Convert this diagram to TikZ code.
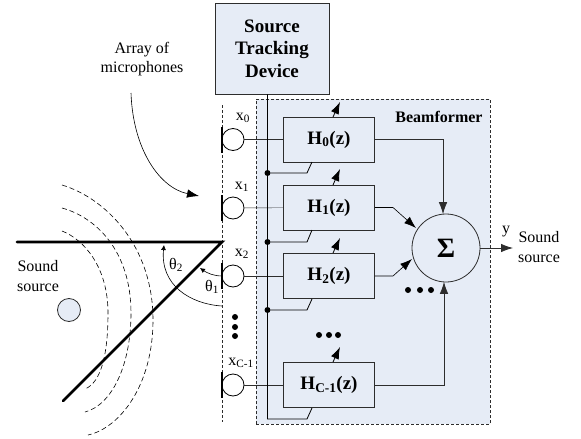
\documentclass[tikz,border=0pt]{standalone}
\usepackage{fontspec}
\setmainfont{Liberation Serif}
\usetikzlibrary{arrows.meta}
\definecolor{panel}{RGB}{230,236,246}
\definecolor{ink}{RGB}{45,45,45}
\tikzset{
  >={Latex[length=12pt,width=8.5pt]},
  filterbox/.style={draw=ink,fill=panel,line width=0.8pt,minimum width=91pt,minimum height=45pt,inner sep=0pt,font=\bfseries\fontsize{19}{19}\selectfont},
  mic/.style={draw,circle,fill=white,line width=0.8pt,minimum size=22pt,inner sep=0pt},
  bar/.style={line width=1.8pt},
  blob/.style={circle,fill=black,minimum size=6pt,inner sep=0pt},
  joint/.style={circle,fill=black,minimum size=6pt,inner sep=0pt},
  wave/.style={dash pattern=on 5pt off 3pt,line width=0.6pt},
  beam/.style={line width=2.8pt,line cap=round},
  lab/.style={inner sep=0pt,font=\fontsize{16}{16}\selectfont},
}
\begin{document}
\begin{tikzpicture}[x=1pt,y=-1pt]
\useasboundingbox (0,0) rectangle (581,439);
\fill [fill=white] (0,0) rectangle (581,439);
% beamformer panel and tracking device
\node [draw=ink,densely dashed,fill=panel,line width=0.6pt,minimum width=234pt,minimum height=325pt,inner sep=0pt] (panel) at (373,261.5) {};
\node [draw=ink,fill=panel,line width=0.8pt,minimum width=114pt,minimum height=91pt,align=center,inner sep=0pt,font=\bfseries\fontsize{19}{22.5}\selectfont] (tracker) at (272,48.5) {Source\\Tracking\\Device};
\node [inner sep=0pt,font=\bfseries\fontsize{16}{16}\selectfont] (beamlabel) at (439,117) {Beamformer};
\draw [densely dashed,draw=ink,line width=0.6pt] (222,105) -- (222,422);
% filters
\node [filterbox] (H0) at (329,139.5) {H\textsubscript{0}(z)};
\node [filterbox] (H1) at (329,207.5) {H\textsubscript{1}(z)};
\node [filterbox] (H2) at (329,276) {H\textsubscript{2}(z)};
\node [filterbox] (HC) at (329,385) {H\textsubscript{C-1}(z)};
\node [draw=ink,circle,fill=panel,line width=0.8pt,minimum size=68pt,inner sep=0pt,font=\bfseries\fontsize{28}{28}\selectfont] (sum) at (446,248) {Σ};
% microphones
\foreach \name/\ypos/\xtext/\ytext/\txt in {A/139.5/243/118/x\textsubscript{0},B/208/242/187/x\textsubscript{1},C/276/242/254/x\textsubscript{2},D/385/241/363/x\textsubscript{C-1}}
{\node [mic] (mic\name) at (233,\ypos) {};
\draw [bar] ([yshift=13pt]mic\name.west) -- ([yshift=-13pt]mic\name.west);
\node [lab] (xlabel\name) at (\xtext,\ytext) {\txt};
}
\draw [draw=ink] (micA) -- (H0);
\draw [draw=ink] (micB) -- (H1);
\draw [draw=ink] (micC) -- (H2);
\draw [draw=ink] (micD) -- (HC);
% control bus
\coordinate (busbottom) at (267.5,419);
\node [joint] (jointA) at (267.5,173) {};
\node [joint] (jointB) at (267.5,242) {};
\node [joint] (jointC) at (267.5,310) {};
\draw [line width=0.8pt] (tracker.south -| busbottom) -- (busbottom) -- (307,419) -- (312,408);
\draw [line width=0.8pt] (jointA) -- (307,173) -- (312,162);
\draw [line width=0.8pt] (jointB) -- (307,242) -- (312,230);
\draw [line width=0.8pt] (jointC) -- (307,310) -- (312,299);
% weight arrows
\draw [->,line width=0.8pt] (333,117) -- (340,102);
\draw [->,line width=0.8pt] (333,185) -- (340,169);
\draw [->,line width=0.8pt] (333,253) -- (340,238);
\draw [->,line width=0.8pt] (333,362) -- (340,347);
% outputs
\draw [->,draw=ink,line width=0.8pt] (H0.east) -- (443,139.5) -- (443,214.2);
\draw [->,line width=0.6pt] (H1.east) -- (393,207.5) -- (416,228);
\draw [->,line width=0.6pt] (H2.east) -- (393,276) -- (412,259);
\draw [->,draw=ink,line width=0.8pt] (HC.east) -- (444,385) -- (444,281.8);
\coordinate (outend) at (513,248);
\draw [->,draw=ink,line width=0.8pt] (sum) -- (outend);
\node [lab] (ylabel) at (506,232) {y};
\node [lab,align=center,font=\fontsize{16}{20}\selectfont] (sink) at (539,247) {Sound\\source};
% dots
\foreach \x in {408,420,431} {\node [blob] (sumdot\x) at (\x,290) {};}
\foreach \x in {319,329,338} {\node [blob] (hdot\x) at (\x,335) {};}
\foreach \y in {317,327,336} {\node [blob] (micdot\y) at (235,\y) {};}
% array label and arrow
\node [lab,align=center,font=\fontsize{16}{19}\selectfont] (arraylabel) at (142,59.5) {Array of\\microphones};
\coordinate (arraystart) at (131,93);
\coordinate (arraytip) at (199,196);
\draw [->,line width=0.6pt] (arraystart) .. controls (133,150) and (160,188) .. (arraytip);
% waves
\draw [wave] (62,185) .. controls (105,198) and (153,245) .. (153,320) .. controls (153,385) and (120,428) .. (88,435);
\draw [wave] (62,208) .. controls (95,217) and (131,250) .. (131,313) .. controls (131,365) and (112,405) .. (85,412);
\draw [wave] (62,231) .. controls (85,240) and (108,268) .. (108,313) .. controls (108,352) and (102,382) .. (85,389);
% source
\node [draw=ink,circle,fill=panel,line width=0.8pt,minimum size=23pt,inner sep=0pt] (source) at (69,310) {};
\node [lab,align=center,font=\fontsize{16}{20}\selectfont] (sourcelabel) at (38,276) {Sound\\source};
% steering lines and angles
\coordinate (apex) at (222,242);
\coordinate (leftend) at (17,242);
\coordinate (lowend) at (63,401);
\draw [beam] (leftend) -- (apex) -- (lowend);
\draw [->,line width=0.6pt,>={Latex[length=5pt,width=5pt]}] (222,306) .. controls (190,304) and (160,285) .. (164,245);
\draw [->,line width=0.6pt,>={Latex[length=5pt,width=5pt]}] (222,276) .. controls (214,276) and (207,273) .. (200,268);
\node [lab] (thetaB) at (176,265) {θ\textsubscript{2}};
\node [lab] (thetaA) at (212,287) {θ\textsubscript{1}};
\end{tikzpicture}
\end{document}
